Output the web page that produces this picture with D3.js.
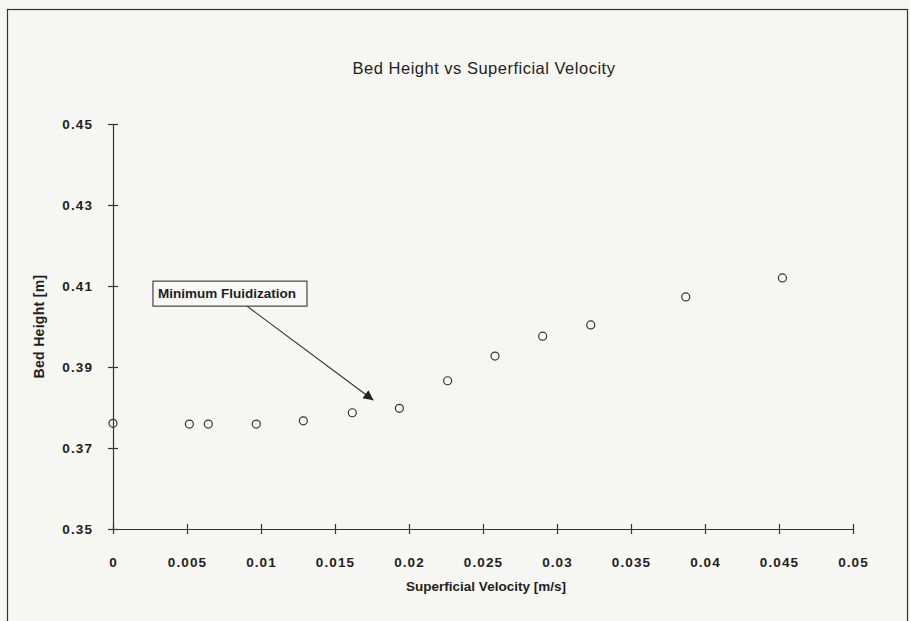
<!DOCTYPE html>
<html>
<head>
<meta charset="utf-8">
<script src="https://cdn.jsdelivr.net/npm/d3@7"></script>
<style>
  body { margin: 0; background: #f6f6f3; }
  svg { display: block; font-family: "Liberation Sans", Arial, sans-serif; }
</style>
</head>
<body>
<div id="chart"></div>
<script>
const width = 910;
const height = 621;

const margin = {top: 124, right: 57, bottom: 92, left: 113};

// data
const velocity = [0, 0.00516, 0.00644, 0.00968, 0.01286, 0.01617, 0.01935, 0.02261, 0.02581, 0.02903, 0.03228, 0.0387, 0.04523];
const bedHeight = [0.3761, 0.3759, 0.3759, 0.3759, 0.3767, 0.3787, 0.3798, 0.3866, 0.3927, 0.3976, 0.4004, 0.4073, 0.4120];

const xTicks = [0, 0.005, 0.01, 0.015, 0.02, 0.025, 0.03, 0.035, 0.04, 0.045, 0.05];
const yTicks = [0.35, 0.37, 0.39, 0.41, 0.43, 0.45];

const annotationText = "Minimum Fluidization";
const annotationBox = [0.0027, 0.4112];   // top-left corner of label box, data units
const annotationTip = [0.0176, 0.3818];    // arrow tip, data units

const x = d3.scaleLinear()
  .domain([0, 0.05])
  .range([margin.left, width - margin.right]);

const y = d3.scaleLinear()
  .domain([0.35, 0.45])
  .range([height - margin.bottom, margin.top]);

const svg = d3.select("#chart")
  .append("svg")
  .attr("width", width)
  .attr("height", height);

// outer frame
svg.append("rect")
  .attr("x", 7.5)
  .attr("y", 9.5)
  .attr("width", 900)
  .attr("height", 620)
  .attr("fill", "#f6f6f3")
  .attr("stroke", "#333")
  .attr("stroke-width", 1.2);

svg.append("text")
  .text("Bed Height vs Superficial Velocity")
  .attr("x", (margin.left + width - margin.right) / 2 + 1)
  .attr("y", 74)
  .attr("text-anchor", "middle")
  .attr("font-size", 16.5)
  .attr("letter-spacing", 0.5)
  .attr("fill", "#1e1e1e");

const xAxis = svg.append("g")
  .attr("transform", `translate(0, ${height - margin.bottom})`)
  .call(d3.axisBottom(x)
    .tickValues(xTicks)
    .tickFormat(d3.format("~g"))
    .tickSizeInner(5)
    .tickSizeOuter(0)
    .tickPadding(23));

const yAxis = svg.append("g")
  .attr("transform", `translate(${margin.left}, 0)`)
  .call(d3.axisLeft(y)
    .tickValues(yTicks)
    .tickFormat(d3.format(".2f"))
    .tickSizeInner(5)
    .tickSizeOuter(0)
    .tickPadding(15));

// ticks cross the axis line
xAxis.selectAll(".tick line").attr("y1", -5).attr("y2", 5);
yAxis.selectAll(".tick line").attr("x1", -5).attr("x2", 5);

[xAxis, yAxis].forEach(ax => {
  ax.select(".domain").attr("stroke", "#333").attr("stroke-width", 1.2);
  ax.selectAll(".tick line").attr("stroke", "#333").attr("stroke-width", 1.2);
  ax.selectAll(".tick text")
    .attr("font-size", 13.5)
    .attr("font-weight", "bold")
    .attr("letter-spacing", 1.1)
    .attr("fill", "#1e1e1e");
});

svg.append("text")
  .text("Superficial Velocity  [m/s]")
  .attr("x", (margin.left + width - margin.right) / 2 + 3)
  .attr("y", 591)
  .attr("text-anchor", "middle")
  .attr("font-size", 13.5)
  .attr("font-weight", "bold")
  .attr("fill", "#1e1e1e");

svg.append("text")
  .text("Bed Height  [m]")
  .attr("transform", `translate(44, ${(margin.top + height - margin.bottom) / 2}) rotate(-90)`)
  .attr("text-anchor", "middle")
  .attr("font-size", 14)
  .attr("font-weight", "bold")
  .attr("letter-spacing", 0.3)
  .attr("fill", "#1e1e1e");

// data points
svg.append("g")
  .selectAll("circle")
  .data(velocity)
  .enter()
  .append("circle")
  .attr("cx", (d) => x(d))
  .attr("cy", (d, i) => y(bedHeight[i]))
  .attr("r", 4)
  .attr("fill", "none")
  .attr("stroke", "#333")
  .attr("stroke-width", 1.2);

// annotation
svg.append("defs")
  .append("marker")
  .attr("id", "arrow")
  .attr("viewBox", "0 0 10 10")
  .attr("refX", 10)
  .attr("refY", 5)
  .attr("markerWidth", 16)
  .attr("markerHeight", 10)
  .attr("markerUnits", "userSpaceOnUse")
  .attr("orient", "auto")
  .append("path")
  .attr("d", "M0,0 L10,5 L0,10 Z")
  .attr("fill", "#222");

const boxX = x(annotationBox[0]);
const boxY = y(annotationBox[1]);
const label = svg.append("g");

const labelText = label.append("text")
  .text(annotationText)
  .attr("x", boxX + 5)
  .attr("y", boxY + 17)
  .attr("font-size", 13.5)
  .attr("font-weight", "bold")
  .attr("fill", "#1e1e1e");

const textWidth = labelText.node().getComputedTextLength();

label.insert("rect", "text")
  .attr("x", boxX)
  .attr("y", boxY)
  .attr("width", textWidth + 16)
  .attr("height", 25)
  .attr("fill", "#f8f8f6")
  .attr("stroke", "#444")
  .attr("stroke-width", 1.2);

svg.append("line")
  .attr("x1", boxX + 94)
  .attr("y1", boxY + 25)
  .attr("x2", x(annotationTip[0]))
  .attr("y2", y(annotationTip[1]))
  .attr("stroke", "#333")
  .attr("stroke-width", 1.2)
  .attr("marker-end", "url(#arrow)");
</script>
</body>
</html>
